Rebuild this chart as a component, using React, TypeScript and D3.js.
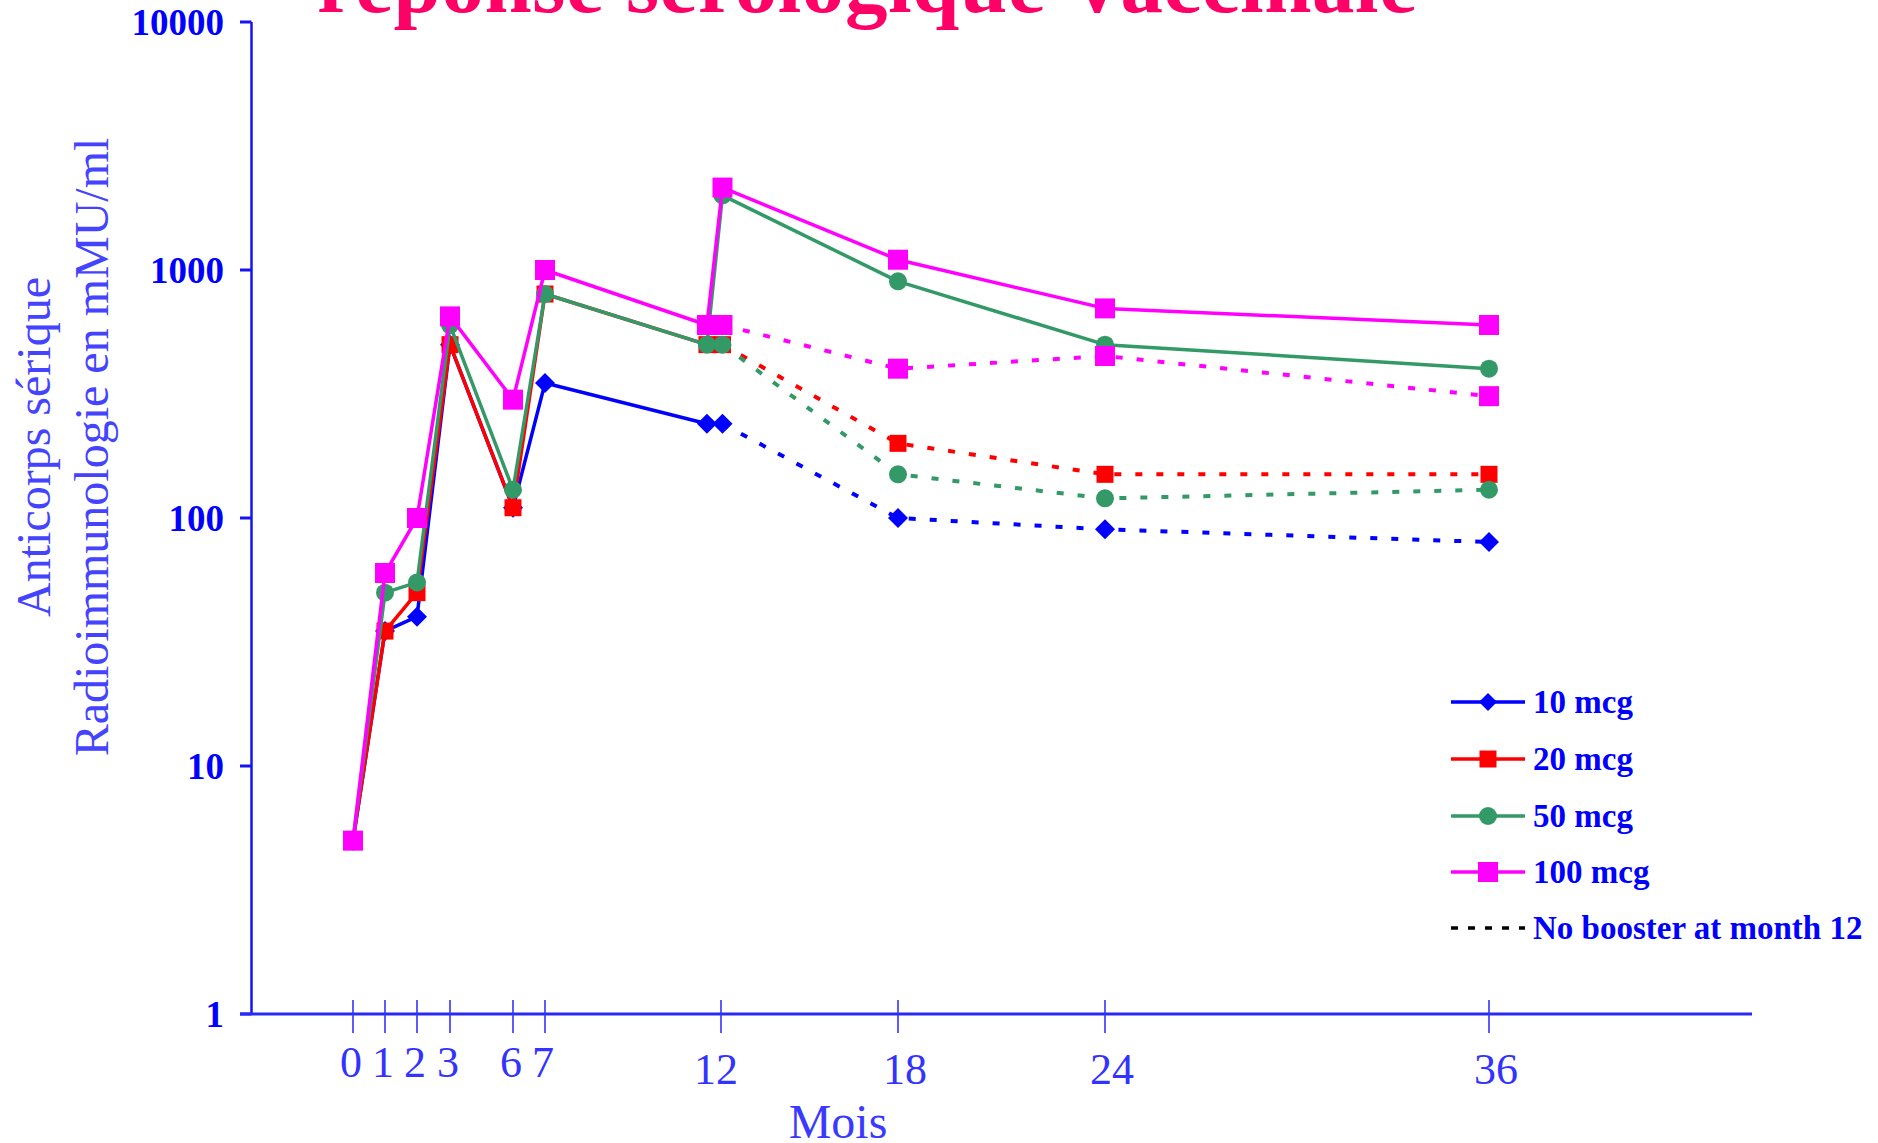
import React, { useEffect, useRef } from "react";
import * as d3 from "d3";

// months where the axis has a tick, and where each tick sits on the page (the axis is not linear)
const xTickMonths = [0, 1, 2, 3, 6, 7, 12, 18, 24, 36];
const xTickPos = [353, 385, 417, 450, 513, 545, 721, 898, 1105, 1489];
const yTicks = [1, 10, 100, 1000, 10000];

// primary series: months 0..7 then the pre-booster point just before month 12
const monthsPrimary = [0, 1, 2, 3, 6, 7, 11.6];
const monthsFollow = [12.05, 18, 24, 36];

const primary10 = [5, 35, 40, 500, 110, 350, 240];
const primary20 = [5, 35, 50, 500, 110, 800, 500];
const primary50 = [5, 50, 55, 600, 130, 800, 500];
const primary100 = [5, 60, 100, 650, 300, 1000, 600];

const booster50 = [2000, 900, 500, 400];
const booster100 = [2150, 1100, 700, 600];

const noBooster10 = [240, 100, 90, 80];
const noBooster20 = [500, 200, 150, 150];
const noBooster50 = [500, 150, 120, 130];
const noBooster100 = [600, 400, 450, 310];

const legendLabels = ["10 mcg", "20 mcg", "50 mcg", "100 mcg", "No booster at month 12"];

const series = [
  { name: "10 mcg", color: "#0000FF", shape: "diamond", size: 20, primary: primary10, booster: null, noBooster: noBooster10 },
  { name: "20 mcg", color: "#FF0000", shape: "square", size: 17, primary: primary20, booster: null, noBooster: noBooster20 },
  { name: "50 mcg", color: "#339966", shape: "circle", size: 18, primary: primary50, booster: booster50, noBooster: noBooster50 },
  { name: "100 mcg", color: "#FF00FF", shape: "square", size: 20, primary: primary100, booster: booster100, noBooster: noBooster100 },
];

const W = 1878, H = 1143;
const serif = "'Liberation Serif', 'Times New Roman', serif";

function markerPath(shape, size) {
  const h = size / 2;
  if (shape === "diamond") return `M0,${-h}L${h},0L0,${h}L${-h},0Z`;
  if (shape === "circle") return d3.arc()({ innerRadius: 0, outerRadius: h, startAngle: 0, endAngle: 2 * Math.PI });
  return `M${-h},${-h}H${h}V${h}H${-h}Z`;
}

export default function App() {
  const ref = useRef(null);

  useEffect(() => {
    const svg = d3.select(ref.current);
    svg.selectAll("*").remove();

    const x = d3.scaleLinear().domain(xTickMonths).range(xTickPos);
    const y = d3.scaleLog().domain([1, 10000]).range([1014, 22]);
    const line = d3.line().x(d => x(d[0])).y(d => y(d[1]));

    // title (cut off at the top of the slide)
    svg.append("text")
      .attr("x", 317).attr("y", 12)
      .attr("textLength", 1100).attr("lengthAdjust", "spacing")
      .style("font-family", serif).style("font-weight", "bold").style("font-size", "85px")
      .attr("fill", "#FF0066")
      .text("réponse sérologique  Vaccinale");

    // y axis
    const axisColor = "#1414F0";
    svg.append("line").attr("x1", 251.5).attr("x2", 251.5).attr("y1", y(10000)).attr("y2", y(1))
      .attr("stroke", axisColor).attr("stroke-width", 2.5);
    const yg = svg.append("g");
    yg.selectAll("line").data(yTicks).join("line")
      .attr("x1", 240).attr("x2", 251.5).attr("y1", d => y(d)).attr("y2", d => y(d))
      .attr("stroke", axisColor).attr("stroke-width", 3);
    yg.selectAll("text").data(yTicks).join("text")
      .attr("x", 224).attr("y", d => y(d) + 13)
      .attr("text-anchor", "end")
      .style("font-family", serif).style("font-weight", "bold").style("font-size", "37px")
      .attr("fill", "#0000FF")
      .text(d => d);

    // x axis
    svg.append("line").attr("x1", 240).attr("x2", 1752).attr("y1", y(1)).attr("y2", y(1))
      .attr("stroke", "#2A2AF5").attr("stroke-width", 3);
    const xg = svg.append("g");
    xg.selectAll("line").data(xTickMonths).join("line")
      .attr("x1", d => x(d)).attr("x2", d => x(d)).attr("y1", y(1) - 14).attr("y2", y(1) + 19)
      .attr("stroke", "#3333FF").attr("stroke-width", 1.6);
    xg.selectAll("text").data(xTickMonths).join("text")
      .attr("x", d => x(d) + (d > 12 ? 7 : d === 12 ? -5 : -2)).attr("y", d => (d >= 12 ? 1084 : 1077))
      .attr("text-anchor", "middle")
      .style("font-family", serif).style("font-size", "44px")
      .attr("fill", "#3333FF")
      .text(d => d);

    svg.append("text").attr("x", 838).attr("y", 1138).attr("text-anchor", "middle")
      .style("font-family", serif).style("font-size", "48px").attr("fill", "#3A3AFF")
      .text("Mois");

    // y axis title, two rotated lines
    const yTitle = ["Anticorps sérique", "Radioimmunologie en mMU/ml"];
    svg.selectAll(".y_title").data(yTitle).join("text").attr("class", "y_title")
      .attr("transform", (d, i) => `translate(${50 + i * 58}, 447) rotate(-90)`)
      .attr("text-anchor", "middle")
      .style("font-family", serif).style("font-size", "48px").attr("fill", "#4444FF")
      .text(d => d);

    // series
    series.forEach(s => {
      const g = svg.append("g");
      const prim = monthsPrimary.map((m, i) => [m, s.primary[i]]);
      const nob = monthsFollow.map((m, i) => [m, s.noBooster[i]]);
      const lastPrim = prim[prim.length - 1];

      g.append("path").attr("d", line(prim.concat([nob[0]])))
        .attr("fill", "none").attr("stroke", s.color).attr("stroke-width", 3.5).attr("stroke-linejoin", "round");
      g.append("path").attr("d", line(nob))
        .attr("fill", "none").attr("stroke", s.color).attr("stroke-width", 4).attr("stroke-dasharray", "7 14");

      let pts = prim.concat(nob);
      if (s.booster) {
        const boo = monthsFollow.map((m, i) => [m, s.booster[i]]);
        g.append("path").attr("d", line([lastPrim].concat(boo)))
          .attr("fill", "none").attr("stroke", s.color).attr("stroke-width", 3.5).attr("stroke-linejoin", "round");
        pts = pts.concat(boo);
      }

      g.selectAll("path.mark").data(pts).join("path").attr("class", "mark")
        .attr("transform", d => `translate(${x(d[0])}, ${y(d[1])})`)
        .attr("d", markerPath(s.shape, s.size))
        .attr("fill", s.color);
    });

    // legend
    const rowY = [702, 759, 816, 872, 928];
    const lg = svg.append("g");
    legendLabels.forEach((label, i) => {
      const s = series[i];
      if (s) {
        lg.append("line").attr("x1", 1451).attr("x2", 1525).attr("y1", rowY[i]).attr("y2", rowY[i])
          .attr("stroke", s.color).attr("stroke-width", 3.5);
        lg.append("path").attr("transform", `translate(1488, ${rowY[i]})`)
          .attr("d", markerPath(s.shape, s.shape === "diamond" ? 18 : s.size))
          .attr("fill", s.color);
      } else {
        lg.append("line").attr("x1", 1451).attr("x2", 1525).attr("y1", rowY[i]).attr("y2", rowY[i])
          .attr("stroke", "#000").attr("stroke-width", 3.5).attr("stroke-dasharray", "7 10");
      }
      lg.append("text").attr("x", 1533).attr("y", rowY[i] + 11)
        .style("font-family", serif).style("font-weight", "bold").style("font-size", "33px")
        .attr("fill", "#0000FF")
        .text(label);
    });
  }, []);

  return (
    <svg ref={ref} width={W} height={H}
      style={{ position: "absolute", left: 0, top: 0, background: "#fff" }} />
  );
}
